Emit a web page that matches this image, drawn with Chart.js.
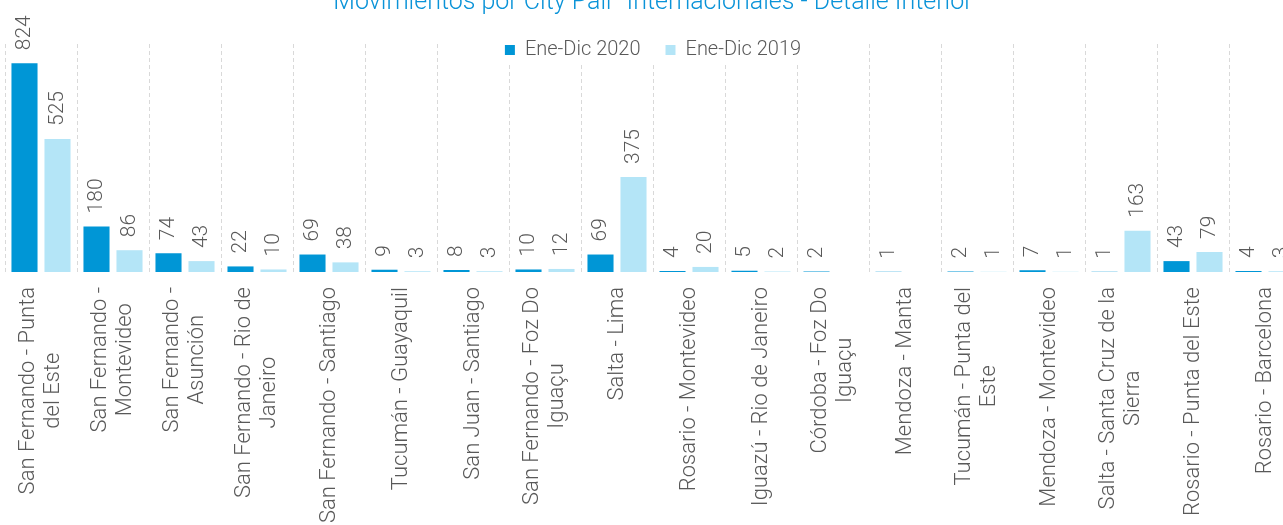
<!DOCTYPE html>
<html>
<head>
<meta charset="utf-8">
<script src="https://cdn.jsdelivr.net/npm/chart.js@4.4.1/dist/chart.umd.min.js"></script>
<style>
  html, body { margin: 0; padding: 0; background: #fff; overflow: hidden; }
  #wrap { position: relative; width: 1306px; height: 535px; margin-top: -10px; }
</style>
</head>
<body>
<div id="wrap"><canvas id="cityPairs"></canvas></div>
<script>
/* --------------- Data --------------------- */
const categories = [
  ["San Fernando - Punta", "del Este"],
  ["San Fernando -", "Montevideo"],
  ["San Fernando -", "Asunción"],
  ["San Fernando - Rio de", "Janeiro"],
  "San Fernando - Santiago",
  "Tucumán - Guayaquil",
  "San Juan - Santiago",
  ["San Fernando - Foz Do", "Iguaçu"],
  "Salta - Lima",
  "Rosario - Montevideo",
  "Iguazú - Rio de Janeiro",
  ["Córdoba - Foz Do", "Iguaçu"],
  "Mendoza - Manta",
  ["Tucumán - Punta del", "Este"],
  "Mendoza - Montevideo",
  ["Salta - Santa Cruz de la", "Sierra"],
  "Rosario - Punta del Este",
  "Rosario - Barcelona",
];
const values2020 = [824, 180, 74, 22, 69, 9, 8, 10, 69, 4, 5, 2, 1, 2, 7, 1, 43, 4];
const values2019 = [525, 86, 43, 10, 38, 3, 3, 12, 375, 20, 2, null, null, 1, 1, 163, 79, 3];
const seriesNames = ["Ene-Dic 2020", "Ene-Dic 2019"];
const yMax = 900;

/* --------------- Styles --------------------- */
const GREY = "#595959";
const FONT = "Roboto";
const colors = ["#0096D6", "#B4E5F7"];

/* --------------- Value labels above bars --------------------- */
const valueLabels = {
  id: "valueLabels",
  afterDatasetsDraw(chart) {
    const ctx = chart.ctx;
    ctx.save();
    ctx.font = `300 21px ${FONT}`;
    ctx.fillStyle = GREY;
    ctx.textAlign = "left";
    ctx.textBaseline = "middle";
    chart.data.datasets.forEach((ds, di) => {
      chart.getDatasetMeta(di).data.forEach((bar, i) => {
        const v = ds.data[i];
        if (v === null || v === undefined) return;
        ctx.save();
        ctx.translate(bar.x, bar.y - 13);
        ctx.rotate(-Math.PI / 2);
        ctx.fillText(String(v), 0, 0);
        ctx.restore();
      });
    });
    ctx.restore();
  },
};

/* --------------- Category labels (rotated, lines centered) --------------------- */
const categoryLabels = {
  id: "categoryLabels",
  afterDraw(chart) {
    const ctx = chart.ctx;
    const xScale = chart.scales.x;
    const lineStep = 25;
    ctx.save();
    ctx.font = `300 22px ${FONT}`;
    ctx.fillStyle = GREY;
    ctx.textAlign = "center";
    ctx.textBaseline = "middle";
    chart.data.labels.forEach((label, i) => {
      const lines = Array.isArray(label) ? label : [label];
      const maxW = Math.max(...lines.map((l) => ctx.measureText(l).width));
      const cx = xScale.getPixelForTick(i);
      const cy = xScale.top + 15 + maxW / 2;
      lines.forEach((line, k) => {
        ctx.save();
        ctx.translate(cx + (k - (lines.length - 1) / 2) * lineStep, cy);
        ctx.rotate(-Math.PI / 2);
        ctx.fillText(line, 0, 0);
        ctx.restore();
      });
    });
    ctx.restore();
  },
};

/* --------------- Legend sits over the top of the plot --------------------- */
const legendOverlap = {
  id: "legendOverlap",
  beforeInit(chart) {
    const legend = chart.legend;
    if (!legend) return;
    const fit = legend.fit;
    legend.fit = function () {
      fit.call(this);
      this.height -= 26;
    };
    legend.draw = function () {
      const ctx = this.ctx;
      const cy = this.top + 35;
      ctx.save();
      ctx.fillStyle = "#fff";
      ctx.fillRect(chart.width / 2 - 170, cy - 16, 340, 31);
      ctx.restore();
      this._draw(); // no clip: the legend overlaps the plot
    };
  },
};

/* --------------- Chart --------------------- */
new Chart(document.getElementById("cityPairs"), {
  type: "bar",
  plugins: [legendOverlap, valueLabels, categoryLabels],
  data: {
    labels: categories,
    datasets: [
      {
        label: seriesNames[0],
        data: values2020,
        backgroundColor: colors[0],
        borderWidth: 0,
        categoryPercentage: 0.9167,
        barPercentage: 0.79,
      },
      {
        label: seriesNames[1],
        data: values2019,
        backgroundColor: colors[1],
        borderWidth: 0,
        categoryPercentage: 0.9167,
        barPercentage: 0.79,
      },
    ],
  },
  options: {
    responsive: true,
    maintainAspectRatio: false,
    animation: false,
    devicePixelRatio: 1,
    layout: { padding: { left: 5, right: 5, top: 0, bottom: 0 } },
    plugins: {
      tooltip: { enabled: false },
      title: {
        display: true,
        text: "Movimientos por City Pair  Internacionales - Detalle Interior",
        color: "#0A93D8",
        font: { family: FONT, size: 25, weight: 300, lineHeight: 1 },
        padding: { top: 0, bottom: 0 },
      },
      legend: {
        display: true,
        position: "top",
        labels: {
          boxWidth: 10,
          boxHeight: 10,
          padding: 25,
          color: GREY,
          font: { family: FONT, size: 20, weight: 300 },
        },
      },
    },
    scales: {
      x: {
        grid: {
          display: true,
          offset: true,
          color: "#D9D9D9",
          lineWidth: 1,
          drawTicks: false,
        },
        border: { display: false, dash: [4, 3] },
        ticks: { display: false },
        afterFit(scale) {
          scale.height = 253;
        },
      },
      y: {
        display: false,
        min: 0,
        max: yMax,
      },
    },
  },
});
</script>
</body>
</html>
